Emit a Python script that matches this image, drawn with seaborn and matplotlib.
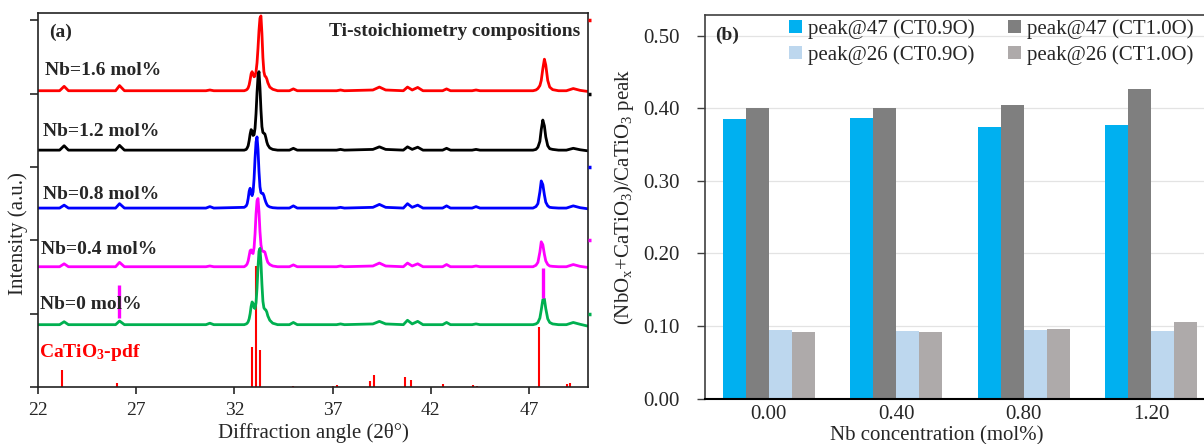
import numpy as np
import pandas as pd
import matplotlib
matplotlib.use("Agg")
import matplotlib.pyplot as plt
import seaborn as sns

# ---------------- data: panel (a) XRD patterns ----------------
two_theta = [22.0, 23.1, 23.33, 23.55, 25.95, 26.15, 26.4, 30.55, 30.75, 30.95,
             32.5, 32.6, 32.65, 32.7, 32.75, 32.8, 32.85, 32.9, 32.95, 33.0,
             33.05, 33.1, 33.15, 33.2, 33.25, 33.3, 33.35, 33.4, 33.45, 33.5,
             33.55, 33.6, 33.65, 33.7, 33.8, 33.95, 34.2,
             34.8, 35.0, 35.2, 37.2, 37.4, 37.6, 39.05, 39.38, 39.7,
             40.6, 40.81, 41.05, 41.33, 41.6, 42.6, 42.8, 43.0, 44.1, 44.3, 44.5,
             47.2, 47.35, 47.45, 47.55, 47.62, 47.7, 47.78, 47.85, 47.95, 48.05,
             48.2, 48.5, 48.9, 49.25, 49.6, 50.0]

nb16 = [0, 0, .06, 0, 0, .07, 0, 0, .01, 0,
        0, .01, .02, .04, .08, .15, .23, .26, .22, .19,
        .20, .26, .38, .58, .82, .99, 1.02, .78, .45, .26,
        .20, .19, .16, .11, .05, .02, 0,
        0, .025, 0, 0, .01, 0, .01, .05, .01,
        0, .05, .01, .045, 0, 0, .025, 0, 0, .01, 0,
        0, .01, .03, .07, .14, .30, .43, .35, .14, .05,
        .015, 0, 0, .03, .005, -.01]
nb12 = [0, 0, .06, 0, 0, .065, 0, 0, 0, 0,
        0, .01, .03, .06, .13, .22, .28, .26, .20, .21,
        .30, .50, .78, 1.0, 1.07, .85, .55, .32, .24, .23,
        .22, .17, .11, .07, .03, .01, 0,
        0, .025, 0, 0, .01, 0, .01, .045, .01,
        0, .045, .01, .04, 0, 0, .025, 0, 0, .01, 0,
        0, .01, .04, .12, .28, .41, .33, .18, .06, .02,
        .01, 0, 0, .025, .005, -.01]
nb08 = [0, 0, .04, 0, 0, .06, 0, 0, .02, 0,
        .01, .03, .06, .13, .23, .27, .20, .17, .22, .40,
        .68, .90, .97, .80, .50, .29, .21, .20, .20, .17,
        .12, .08, .05, .03, .015, .005, 0,
        0, .03, 0, 0, .01, 0, .01, .05, .01,
        0, .06, .01, .04, 0, 0, .03, 0, 0, .02, 0,
        0, .02, .06, .22, .37, .32, .18, .08, .03, .01,
        .005, 0, 0, .03, .005, -.01]
nb04 = [0, 0, .04, 0, 0, .06, 0, 0, .01, 0,
        0, .02, .04, .08, .15, .22, .23, .19, .18, .26,
        .45, .72, .90, .93, .75, .48, .30, .22, .21, .21,
        .20, .15, .10, .06, .03, .01, 0,
        0, .025, 0, 0, .01, 0, .01, .05, .01,
        0, .05, .01, .04, 0, 0, .03, 0, 0, .01, 0,
        0, .02, .06, .20, .34, .30, .17, .08, .03, .01,
        .005, 0, 0, .03, .005, -.01]
nb00 = [0, 0, .04, 0, 0, .05, 0, 0, .02, 0,
        0, .01, .02, .04, .08, .15, .25, .31, .29, .23,
        .22, .30, .50, .78, 1.0, 1.04, .85, .55, .32, .23,
        .21, .20, .17, .12, .06, .02, 0,
        0, .03, 0, 0, .01, 0, .01, .045, .01,
        0, .06, .01, .045, 0, 0, .03, 0, 0, .01, 0,
        0, .01, .03, .09, .20, .34, .35, .22, .08, .03,
        .01, 0, 0, .03, .005, -.02]

pattern_names = ["Nb=1.6 mol%", "Nb=1.2 mol%", "Nb=0.8 mol%", "Nb=0.4 mol%", "Nb=0 mol%"]
pattern_values = [nb16, nb12, nb08, nb04, nb00]
pattern_offsets = [4.04, 3.23, 2.44, 1.64, 0.85]
pattern_colors = ["#FF0000", "#000000", "#0000FF", "#FF00FF", "#00B050"]
label_pos_x = [22.35, 22.23, 22.23, 22.16, 22.12]
label_pos_y = [4.31, 3.49, 2.63, 1.88, 1.12]

# CaTiO3 reference pattern sticks
pdf_angle = [23.23, 26.02, 32.88, 33.09, 33.29, 34.99, 37.0, 37.23, 38.9, 39.09,
             40.69, 41.0, 42.6, 44.17, 44.36, 47.49, 48.95, 49.09]
pdf_height = [0.23, 0.05, 0.55, 1.65, 0.50, 0.02, 0.02, 0.03, 0.08, 0.17,
              0.13, 0.09, 0.04, 0.03, 0.02, 0.82, 0.04, 0.05]

# magenta marker segments
marker_x = [26.1, 47.72]
marker_lo = [0.94, 1.21]
marker_hi = [1.39, 1.62]

xticks_a = [22, 27, 32, 37, 42, 47]

# ---------------- data: panel (b) bar ratios ----------------
nb_conc = ["0.00", "0.40", "0.80", "1.20"]
series_names = ["peak@47 (CT0.9O)", "peak@47 (CT1.0O)", "peak@26 (CT0.9O)", "peak@26 (CT1.0O)"]
p47_ct09 = [0.386, 0.387, 0.374, 0.377]
p47_ct10 = [0.400, 0.400, 0.404, 0.427]
p26_ct09 = [0.094, 0.093, 0.094, 0.093]
p26_ct10 = [0.0915, 0.092, 0.0956, 0.1057]
bar_colors = ["#00B0F0", "#7F7F7F", "#BDD7EE", "#AEAAAA"]
yticks_b = [0.0, 0.1, 0.2, 0.3, 0.4, 0.5]

# ---------------- style ----------------
sns.set_style("ticks")
plt.rcParams["font.family"] = ["Liberation Serif", "DejaVu Serif"]
plt.rcParams["mathtext.fontset"] = "custom"
plt.rcParams["mathtext.rm"] = "Liberation Serif"
plt.rcParams["mathtext.it"] = "Liberation Serif:italic"
plt.rcParams["mathtext.bf"] = "Liberation Serif:bold"

W, H = 1204, 444
fig = plt.figure(figsize=(W / 100, H / 100), dpi=100)

# ---------------- panel (a) ----------------
axA = fig.add_axes([38 / W, 57 / H, 550 / W, 374 / H])
axA.vlines(pdf_angle, 0, pdf_height, color="#FF0000", lw=1.5, zorder=1)
for name, vals, off, col in zip(pattern_names, pattern_values, pattern_offsets, pattern_colors):
    y = np.asarray(vals) + off
    sns.lineplot(x=two_theta, y=y, ax=axA, color=col, lw=2.0, sort=False,
                 estimator=None, zorder=2)
axA.vlines(marker_x, marker_lo, marker_hi, color="#FF00FF", lw=2.4, zorder=3)

for name, lx, ly in zip(pattern_names, label_pos_x, label_pos_y):
    axA.text(lx, ly, name, fontsize=14, fontweight="bold", ha="left", va="center")
axA.text(22.06, 0.47, r"CaTiO$_\mathbf{3}$-pdf", fontsize=14, fontweight="bold",
         color="#FF0000", ha="left", va="center")
axA.text(22.59, 4.84, "(a)", fontsize=14, fontweight="bold", ha="left", va="center")
axA.text(49.6, 4.85, "Ti-stoichiometry compositions", fontsize=14, fontweight="bold",
         ha="right", va="center")

axA.set_xlim(22, 50)
axA.set_ylim(0, 5.1)
axA.set_xticks(xticks_a)
axA.set_xticklabels([str(t) for t in xticks_a])
axA.set_yticks([0, 1, 2, 3, 4, 5])
axA.set_yticklabels([])
axA.tick_params(axis="x", direction="out", length=5, width=1.2, labelsize=14, pad=6)
axA.tick_params(axis="y", direction="out", length=6, width=1.2, left=True)
for s in axA.spines.values():
    s.set_visible(True)
    s.set_linewidth(1.2)
    s.set_color("#222222")
axA.set_xlabel("Diffraction angle (2θ°)", fontsize=15)
axA.xaxis.set_label_coords(0.5, -0.123)
axA.xaxis.label.set_va("center")
axA.set_ylabel("Intensity (a.u.)", fontsize=15)
axA.yaxis.set_label_coords(-0.036, 0.41)
axA.yaxis.label.set_va("center")

axR = axA.twinx()
axR.set_ylim(0, 5.1)
axR.set_yticks([5, 4, 3, 2, 1])
axR.set_yticklabels([])
axR.tick_params(axis="y", direction="out", length=2.5, width=2.5)
for t, c in zip(axR.yaxis.get_major_ticks(), pattern_colors):
    t.tick2line.set_markeredgecolor(c)
for s in axR.spines.values():
    s.set_visible(False)

# ---------------- panel (b) ----------------
axB = fig.add_axes([705 / W, (H - 398.5) / H, 510 / W, 383.5 / H])
df = pd.DataFrame({
    "conc": nb_conc * 4,
    "series": [series_names[0]] * 4 + [series_names[1]] * 4 + [series_names[2]] * 4 + [series_names[3]] * 4,
    "value": p47_ct09 + p47_ct10 + p26_ct09 + p26_ct10,
})
sns.barplot(data=df, x="conc", y="value", hue="series", order=nb_conc,
            hue_order=series_names, palette=bar_colors, width=0.72, gap=0,
            saturation=1, linewidth=0, ax=axB, zorder=2)
axB.set_xlim(-0.5, 3.5)
axB.set_ylim(0, 0.5287)
axB.set_yticks(yticks_b)
axB.set_yticklabels([f"{v:.2f}" for v in yticks_b])
axB.yaxis.grid(True, color="#E3E3E3", lw=0.9, zorder=0)
axB.set_axisbelow(True)
axB.tick_params(axis="y", direction="out", length=6, width=1.0, color="#404040",
                labelsize=15, pad=12)
axB.tick_params(axis="x", length=0, labelsize=15, pad=5)
axB.spines["left"].set_color("#404040")
axB.spines["top"].set_visible(True)
axB.spines["top"].set_color("#404040")
axB.spines["right"].set_visible(False)
axB.spines["bottom"].set_color("#000000")
axB.spines["bottom"].set_linewidth(1.5)
axB.spines["left"].set_linewidth(1.2)
axB.spines["top"].set_linewidth(1.2)

axB.set_xlabel("Nb concentration (mol%)", fontsize=15)
axB.xaxis.set_label_coords(0.454, -0.097)
axB.xaxis.label.set_va("center")
axB.set_ylabel(r"(NbO$_\mathrm{x}$+CaTiO$_\mathrm{3}$)/CaTiO$_\mathrm{3}$ peak", fontsize=15)
axB.yaxis.set_label_coords(-0.158, 0.526)
axB.yaxis.label.set_va("center")
axB.text(0.019, 0.948, "(b)", transform=axB.transAxes, fontsize=14,
         fontweight="bold", ha="left", va="center")

handles, labels = axB.get_legend_handles_labels()
order = [0, 2, 1, 3]
axB.legend([handles[i] for i in order], [labels[i] for i in order], ncol=2,
           loc="upper left", bbox_to_anchor=(789 / W, 1 - 19 / H),
           bbox_transform=fig.transFigure, frameon=False, fontsize=15,
           handlelength=0.62, handleheight=0.62, handletextpad=0.3,
           columnspacing=1.6, labelspacing=0.3, borderpad=0, borderaxespad=0)

fig.savefig("out.png", dpi=100)
